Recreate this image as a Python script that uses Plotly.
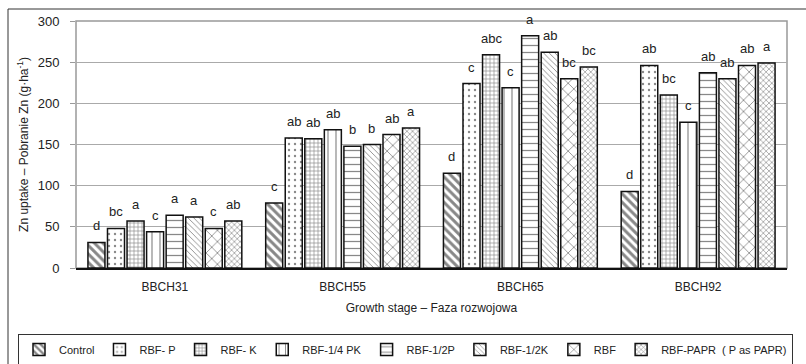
import plotly.graph_objects as go

# Growth stages (x categories)
stages = ["BBCH31", "BBCH55", "BBCH65", "BBCH92"]

# Zn uptake (g/ha) per treatment, one value per growth stage
control = [31, 79, 115, 93]
rbf_p = [48, 158, 224, 246]
rbf_k = [57, 157, 259, 210]
rbf_14pk = [44, 168, 219, 177]
rbf_12p = [64, 148, 282, 237]
rbf_12k = [62, 150, 262, 230]
rbf = [48, 162, 230, 246]
rbf_papr = [57, 170, 244, 249]

# Letters of homogeneous groups shown above the bars
let_control = ["d", "c", "d", "d"]
let_rbf_p = ["bc", "ab", "c", "ab"]
let_rbf_k = ["a", "ab", "abc", "bc"]
let_rbf_14pk = ["c", "ab", "c", "c"]
let_rbf_12p = ["a", "b", "a", "ab"]
let_rbf_12k = ["a", "b", "ab", "ab"]
let_rbf = ["c", "ab", "bc", "ab"]
let_rbf_papr = ["ab", "a", "bc", "a"]

series = [
    ("Control", control, let_control, dict(shape="\\", size=6, solidity=0.5)),
    ("RBF- P", rbf_p, let_rbf_p, dict(shape=".", size=6, solidity=0.12)),
    ("RBF- K", rbf_k, let_rbf_k, dict(shape="+", size=4, solidity=0.3)),
    ("RBF-1/4 PK", rbf_14pk, let_rbf_14pk, dict(shape="|", size=8, solidity=0.15)),
    ("RBF-1/2P", rbf_12p, let_rbf_12p, dict(shape="-", size=7, solidity=0.18)),
    ("RBF-1/2K", rbf_12k, let_rbf_12k, dict(shape="\\", size=4, solidity=0.22)),
    ("RBF", rbf, let_rbf, dict(shape="x", size=8, solidity=0.2)),
    ("RBF-PAPR  ( P as PAPR)", rbf_papr, let_rbf_papr, dict(shape="x", size=4, solidity=0.3)),
]

FONT = "Liberation Sans, Arial, sans-serif"
TXT = "#222222"
W, H = 806, 364
L, R, T, B = 76, 19, 21, 96
BARGAP = 0.12
BARGROUPGAP = 0.13

fig = go.Figure()
n = len(series)
annotations = []
for i, (name, vals, letters, pat) in enumerate(series):
    fig.add_trace(go.Bar(
        name=name, x=stages, y=vals,
        marker=dict(
            color="white",
            line=dict(color="#111111", width=1.5),
            pattern=dict(fgcolor="#111111", bgcolor="white", fillmode="overlay", **pat),
        ),
    ))
    # letter labels centred over each bar of this series
    slot = (1 - BARGAP) / n
    for g, (v, lab) in enumerate(zip(vals, letters)):
        xc = g - (1 - BARGAP) / 2 + slot * (i + 0.5)
        annotations.append(dict(
            x=xc, y=v, xref="x", yref="y", text=lab, showarrow=False,
            yanchor="bottom", yshift=7, font=dict(family=FONT, size=13, color=TXT),
        ))

pw = W - L - R
ph = H - T - B


def px_x(p):
    """pixel column -> paper x"""
    return (p - L) / pw


def px_y(p):
    """pixel row -> paper y"""
    return (H - B - p) / ph


shapes = [
    # grey frame of the plotting area
    dict(type="rect", xref="paper", yref="paper", x0=0, x1=1, y0=0, y1=1,
         line=dict(color="#999999", width=1.5), layer="below"),
    # outer chart frame (left and top edges)
    dict(type="line", xref="paper", yref="paper",
         x0=px_x(8), x1=px_x(8), y0=px_y(370), y1=px_y(9),
         line=dict(color="#333333", width=1)),
    dict(type="line", xref="paper", yref="paper",
         x0=px_x(8), x1=px_x(812), y0=px_y(9), y1=px_y(9),
         line=dict(color="#333333", width=1)),
]

fig.update_layout(
    width=W, height=H,
    margin=dict(l=L, r=R, t=T, b=B, autoexpand=False),
    paper_bgcolor="white", plot_bgcolor="white",
    barmode="group", bargap=BARGAP, bargroupgap=BARGROUPGAP,
    font=dict(family=FONT, color=TXT, size=12),
    annotations=annotations,
    shapes=shapes,
    legend=dict(
        orientation="h", xref="paper", yref="paper",
        x=px_x(18), xanchor="left", y=px_y(334), yanchor="top",
        bordercolor="#333333", borderwidth=1, font=dict(family=FONT, size=11, color=TXT),
        itemwidth=30, tracegroupgap=0,
    ),
    xaxis=dict(
        showline=True, linecolor="#111111", linewidth=1.5,
        showgrid=False, ticks="", tickfont=dict(size=12),
        ticklabelstandoff=7,
        title=dict(text="Growth stage – Faza rozwojowa", font=dict(size=12), standoff=10),
    ),
    yaxis=dict(
        range=[0, 300], dtick=50, showline=False,
        showgrid=True, gridcolor="#aaaaaa", gridwidth=1,
        ticks="outside", ticklen=5, tickcolor="#999999",
        tickfont=dict(size=13), ticklabelstandoff=8,
        zeroline=False,
        title=dict(text="Zn uptake – Pobranie Zn (g·ha<sup>-1</sup>)", font=dict(size=12), standoff=6),
    ),
)

fig.write_html("out.html")
